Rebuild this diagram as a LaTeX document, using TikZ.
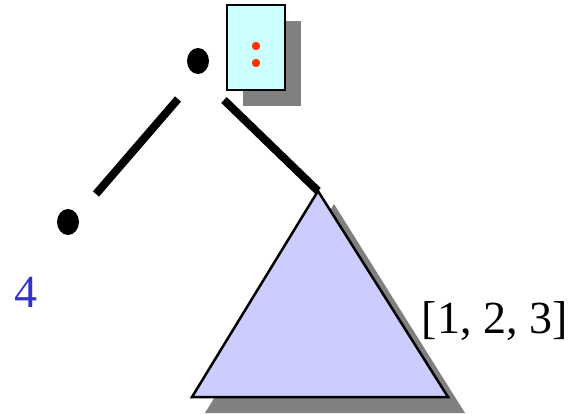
\documentclass[tikz,border=0pt]{standalone}
\usepackage{fontspec}
\setmainfont{Liberation Serif}
\definecolor{boxfill}{HTML}{CCFFFF}
\definecolor{trifill}{HTML}{CCCCFF}
\definecolor{shadowgray}{HTML}{808080}
\definecolor{dotred}{HTML}{FF3300}
\definecolor{numblue}{HTML}{3333CC}
\tikzset{
  treenode/.style={ellipse, fill=black, inner sep=0pt, minimum width=22pt, minimum height=26pt},
  edge/.style={line width=8pt},
  shade/.style={fill=shadowgray},
  bigtext/.style={font=\fontsize{46}{50}\selectfont, inner sep=0pt, anchor=base},
}
\usetikzlibrary{shapes.geometric}
\begin{document}
\begin{tikzpicture}[x=1pt,y=-1pt]
\useasboundingbox (0,0) rectangle (574,415);
% box with shadow
\fill[shade] (243,21) rectangle (301,106);
\draw[line width=2.5pt, fill=boxfill] (227,5) rectangle (285,90);
\fill[dotred] (256,46) circle (4.2);
\fill[dotred] (256,63) circle (4.2);
% triangle with shadow
\fill[shade] (334,204) -- (465,413) -- (205,413) -- cycle;
\draw[line width=2.5pt, fill=trifill, line join=miter] (318,191) -- (448,397) -- (192,397) -- cycle;
% nodes
\node[treenode] (root) at (198,61) {};
\node[treenode] (left) at (68,222) {};
\coordinate (tri) at (318,191);
\coordinate (ls) at (178,99);
\coordinate (le) at (96,194);
\coordinate (rs) at (224,100);
\draw[edge] (ls) -- (le);
\draw[edge] (rs) -- (tri);
% labels
\node[bigtext, text=numblue] (four) at (26.5,307) {4};
\node[bigtext] (list) at (494.5,333) {[1, 2, 3]};
\end{tikzpicture}
\end{document}
